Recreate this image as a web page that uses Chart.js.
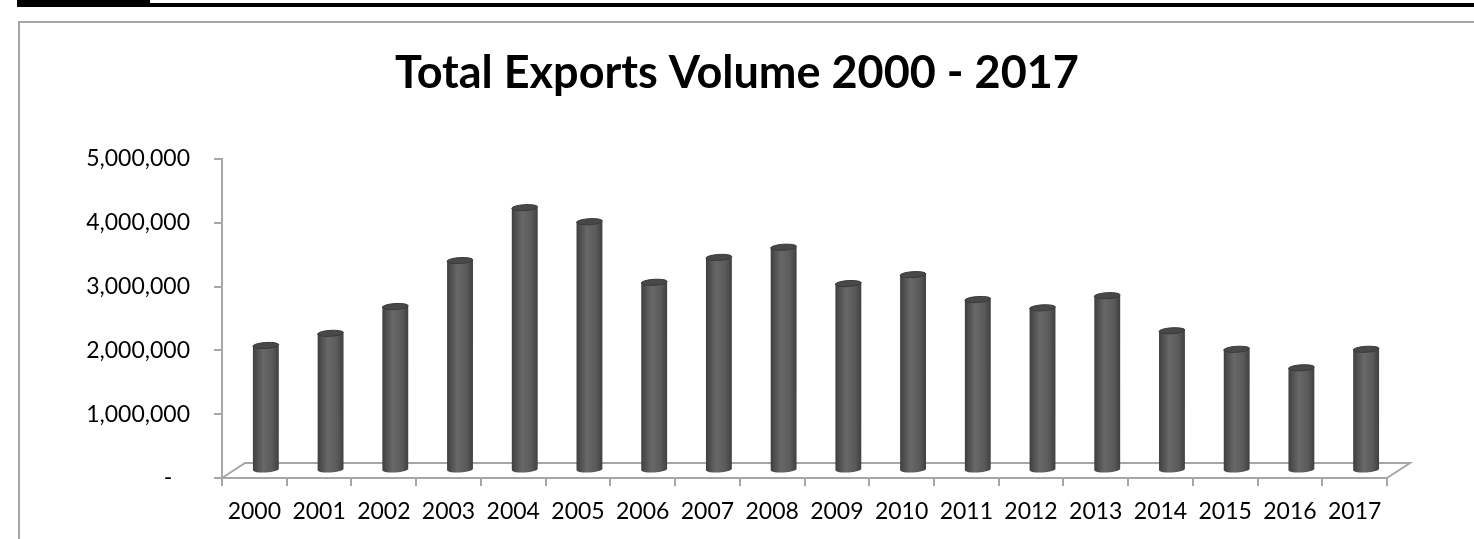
<!DOCTYPE html>
<html>
<head>
<meta charset="utf-8">
<script src="https://cdn.jsdelivr.net/npm/chart.js@4.4.1/dist/chart.umd.min.js"></script>
<style>
  html, body { margin: 0; padding: 0; background: #fff; overflow: hidden; }
  body { width: 1474px; height: 539px; position: relative; }
  #strip { position: absolute; left: 17px; top: 0; width: 1457px; height: 7px; background: #000; }
  #strip .cells { position: absolute; left: 133px; top: 0; right: 0; height: 3px; background: #fff; }
  #frame { position: absolute; left: 18px; top: 21px; width: 1470px; height: 540px; border: 2px solid #a6a6a6; box-sizing: border-box; }
  #c { position: absolute; left: 0; top: 0; }
</style>
</head>
<body>
<div id="strip"><div class="cells"></div></div>
<div id="frame"></div>
<canvas id="c" width="1474" height="539"></canvas>
<script>
// Total exports volume
const years = ['2000','2001','2002','2003','2004','2005','2006','2007','2008',
               '2009','2010','2011','2012','2013','2014','2015','2016','2017'];
const exportsVolume = [1960000, 2150000, 2570000, 3290000, 4120000, 3900000, 2950000, 3340000, 3500000,
                       2930000, 3070000, 2680000, 2550000, 2740000, 2190000, 1900000, 1610000, 1900000];
const yTicks = [0, 1000000, 2000000, 3000000, 4000000, 5000000];

const FONT = 'Lato';
const AXIS_GREY = '#a6a6a6';
// fake 3D depth of the floor
const DEPTH_X = 23, DEPTH_Y = -15;

// floor (drawn behind the columns)
const floorPlugin = {
  id: 'floor',
  beforeDatasetsDraw(chart) {
    const {ctx, chartArea: a} = chart;
    ctx.save();
    ctx.strokeStyle = AXIS_GREY;
    ctx.lineWidth = 2;
    ctx.beginPath();
    ctx.moveTo(a.left, a.bottom);
    ctx.lineTo(a.left + DEPTH_X, a.bottom + DEPTH_Y);
    ctx.lineTo(a.right + DEPTH_X, a.bottom + DEPTH_Y);
    ctx.lineTo(a.right, a.bottom);
    ctx.stroke();
    ctx.restore();
  }
};

// cylinders, using the bar elements' geometry
const cylinderPlugin = {
  id: 'cylinders',
  afterDatasetsDraw(chart) {
    const ctx = chart.ctx;
    const meta = chart.getDatasetMeta(0);
    const dx = DEPTH_X / 2, dy = DEPTH_Y / 2;
    meta.data.forEach(bar => {
      const w = bar.width;
      const left = bar.x - w / 2 + dx;
      const right = bar.x + w / 2 + dx;
      const top = bar.y + dy;
      const base = bar.base + dy;
      const cx = (left + right) / 2;
      const ry = 3;
      const tilt = -0.06;

      const g = ctx.createLinearGradient(left, 0, right, 0);
      g.addColorStop(0, '#3e3e3e');
      g.addColorStop(0.12, '#4c4c4c');
      g.addColorStop(0.4, '#686868');
      g.addColorStop(0.75, '#5a5a5a');
      g.addColorStop(1, '#404040');

      ctx.save();
      ctx.fillStyle = g;
      ctx.beginPath();
      ctx.moveTo(left, top);
      ctx.lineTo(left, base);
      ctx.ellipse(cx, base, w / 2, ry, tilt, Math.PI, 0, true);
      ctx.lineTo(right, top);
      ctx.closePath();
      ctx.fill();

      // top face
      ctx.fillStyle = '#484848';
      ctx.strokeStyle = '#3a3a3a';
      ctx.lineWidth = 1;
      ctx.beginPath();
      ctx.ellipse(cx, top, w / 2, ry, tilt, 0, Math.PI * 2);
      ctx.fill();
      ctx.stroke();
      ctx.restore();
    });
  }
};

new Chart(document.getElementById('c'), {
  type: 'bar',
  data: {
    labels: years,
    datasets: [{
      label: 'Total Exports',
      data: exportsVolume,
      backgroundColor: 'rgba(0,0,0,0)',
      borderWidth: 0,
      categoryPercentage: 1,
      barPercentage: 0.4
    }]
  },
  options: {
    responsive: false,
    animation: false,
    layout: { padding: 0 },
    plugins: {
      legend: { display: false },
      tooltip: { enabled: false },
      title: {
        display: true,
        text: 'Total Exports Volume 2000 - 2017',
        color: '#000',
        font: { family: FONT, size: 45, weight: 'bold', lineHeight: 1.2 },
        padding: { top: 46.5, bottom: 58.5 }
      }
    },
    scales: {
      x: {
        grid: { display: true, drawOnChartArea: false, offset: true, tickLength: 8, color: AXIS_GREY, lineWidth: 2 },
        border: { display: true, color: AXIS_GREY, width: 2 },
        ticks: { color: '#000', padding: 12, font: { family: FONT, size: 23 }, maxRotation: 0 },
        afterFit(s) { s.height = 61; }
      },
      y: {
        min: 0,
        max: 5000000,
        afterBuildTicks(s) { s.ticks = yTicks.map(v => ({ value: v })); },
        grid: { display: true, drawOnChartArea: false, tickLength: 8, color: AXIS_GREY, lineWidth: 2 },
        border: { display: true, color: AXIS_GREY, width: 2 },
        ticks: {
          color: '#000',
          padding: 24,
          font: { family: FONT, size: 23 },
          callback: v => v === 0 ? '-   ' : v.toLocaleString('en-US')
        },
        afterFit(s) { s.width = 222; }
      },
      yRight: {
        position: 'right',
        display: true,
        grid: { display: false },
        border: { display: false },
        ticks: { display: false },
        afterFit(s) { s.width = 87; }
      }
    }
  },
  plugins: [floorPlugin, cylinderPlugin]
});
</script>
</body>
</html>
